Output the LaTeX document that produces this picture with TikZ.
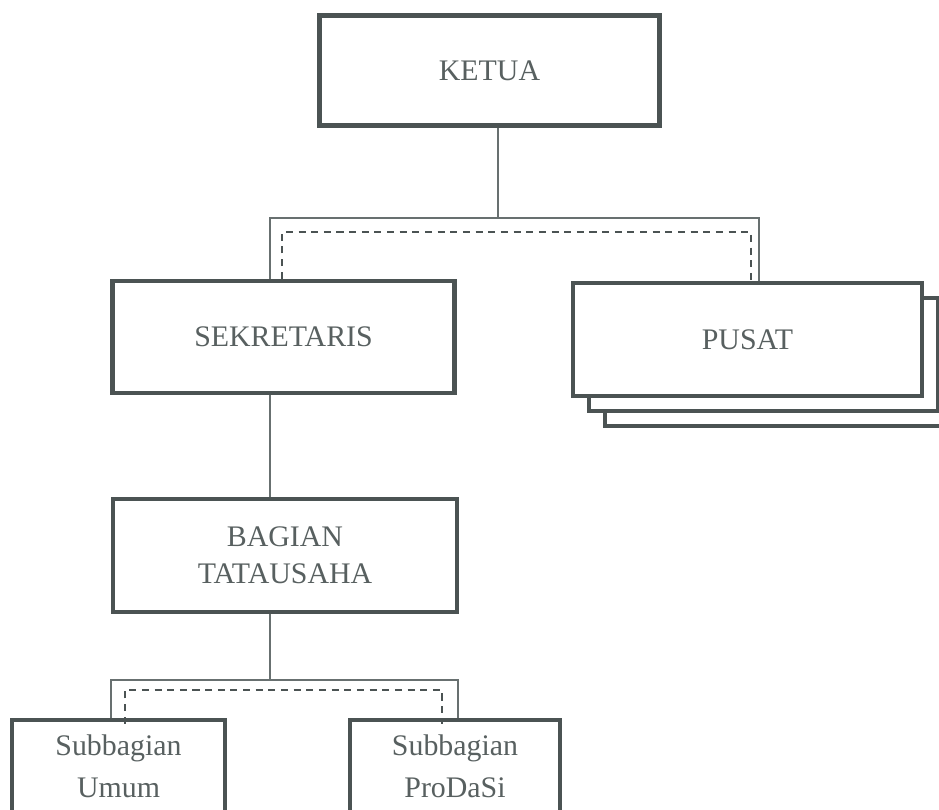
\documentclass[tikz,border=0pt]{standalone}
\usepackage{fontspec}
\setmainfont{Liberation Serif}
\definecolor{BoxBorder}{HTML}{4B5353}
\definecolor{LineColor}{HTML}{687070}
\definecolor{LabelColor}{HTML}{586060}
\tikzset{
  OrgBox/.style={draw=BoxBorder, line width=2.6pt, fill=white, text=LabelColor,
    align=center, inner sep=0pt, font=\fontsize{17}{21}\selectfont},
  SubBox/.style={OrgBox, font=\fontsize{17}{24}\selectfont},
  Connector/.style={draw=LineColor, line width=1.1pt},
  DashedConnector/.style={draw=BoxBorder, line width=1.5pt, dash pattern=on 4pt off 3.2pt}
}
\begin{document}
\begin{tikzpicture}[x=0.02cm, y=-0.02cm]

\clip (0,0) rectangle (939,809);
\fill[white] (0,0) rectangle (939,809);

\coordinate (M1) at (498,218);
\coordinate (L1) at (270,218);
\coordinate (R1) at (759,218);
\coordinate (L2) at (282,232);
\coordinate (R2) at (751,232);
\coordinate (M3) at (270,680);
\coordinate (L3) at (111,680);
\coordinate (R3) at (458,680);
\coordinate (L4) at (125,690);
\coordinate (R4) at (442,690);

\node[OrgBox, minimum width=6.8cm, minimum height=2.2cm] (K) at (489.5,70.5) {KETUA};
\node[OrgBox, minimum width=6.84cm, minimum height=2.24cm] (S) at (283.5,337) {SEKRETARIS};
\node[OrgBox, minimum width=6.88cm, minimum height=2.26cm] (T) at (285,555.5) {BAGIAN\\TATAUSAHA};

% Tumpukan PUSAT
\node[OrgBox, minimum width=6.98cm, minimum height=2.26cm] (P3) at (779.5,369.5) {};
\node[OrgBox, minimum width=6.98cm, minimum height=2.26cm] (P2) at (763.5,354.5) {};
\node[OrgBox, minimum width=6.98cm, minimum height=2.26cm] (P) at (747.5,339.5) {PUSAT};

\node[SubBox, minimum width=4.26cm, minimum height=1.84cm] (U) at (118.5,766) {Subbagian\\Umum};
\node[SubBox, minimum width=4.2cm, minimum height=1.84cm] (D) at (455,766) {Subbagian\\ProDaSi};

% Garis penghubung
\draw[Connector] (K.south -| M1) -- (M1);
\draw[Connector] (S.north -| L1) -- (L1) -- (R1) -- (P.north -| R1);
\draw[DashedConnector] (S.north -| L2) -- (L2) -- (R2) -- (P.north -| R2);
\draw[Connector] (S.south -| L1) -- (T.north -| L1);
\draw[Connector] (T.south -| M3) -- (M3);
\draw[Connector] (U.north -| L3) -- (L3) -- (R3) -- (D.north -| R3);
\draw[DashedConnector] ([yshift=-6*0.02cm]U.north -| L4) -- (L4) -- (R4) -- ([yshift=-6*0.02cm]D.north -| R4);

\end{tikzpicture}
\end{document}
